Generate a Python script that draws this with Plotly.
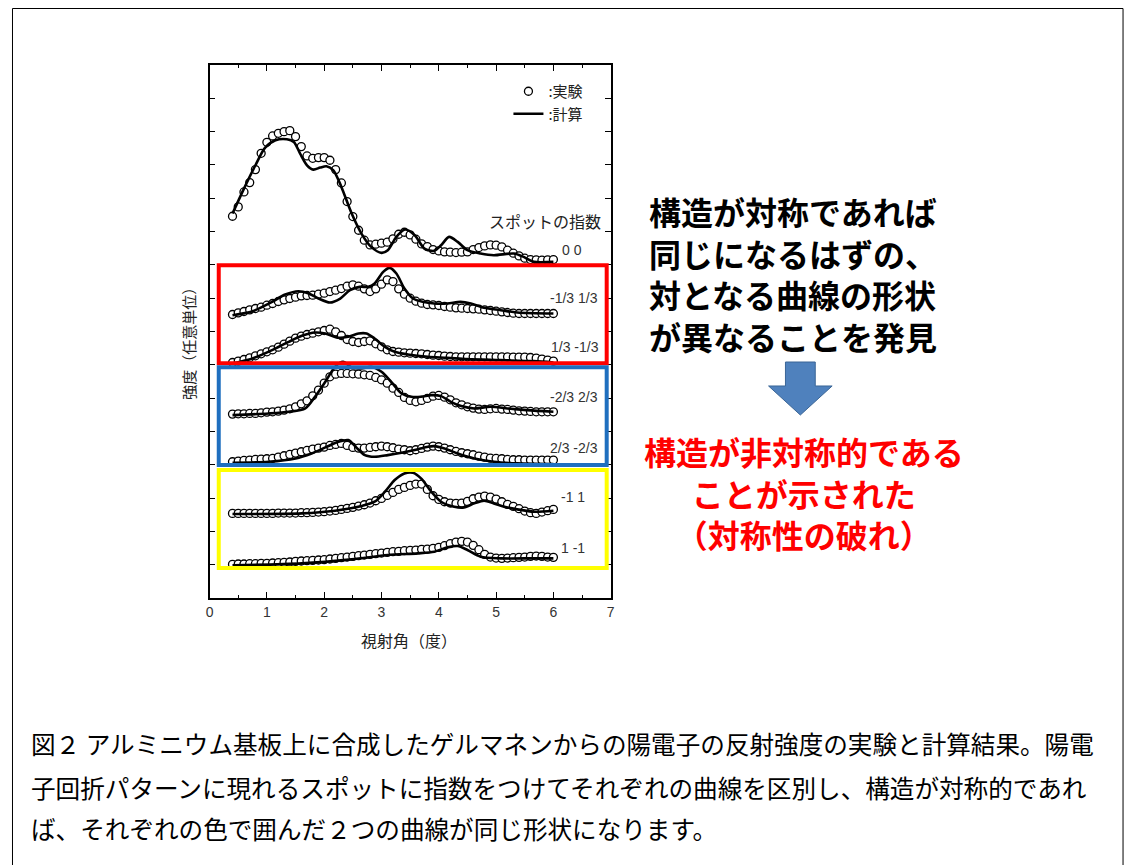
import plotly.graph_objects as go

# page is 1132x865; the browser body has an 8px margin, so the figure is 8px smaller
PAGE_OFF = 8
W, H = 1132 - PAGE_OFF, 865 - PAGE_OFF

# ---------------- data ----------------
X_EXP = [0.4, 0.5, 0.6, 0.7, 0.8, 0.9, 1.0, 1.1, 1.2, 1.3, 1.4, 1.5, 1.6, 1.7, 1.8, 1.9,
         2.0, 2.1, 2.2, 2.3, 2.4, 2.5, 2.6, 2.7, 2.8, 2.9, 3.0, 3.1, 3.2, 3.3, 3.4, 3.5,
         3.6, 3.7, 3.8, 3.9, 4.0, 4.1, 4.2, 4.3, 4.4, 4.5, 4.6, 4.7, 4.8, 4.9, 5.0, 5.1,
         5.2, 5.3, 5.4, 5.5, 5.6, 5.7, 5.8, 5.9, 6.0]

EXP_00 = [11.46, 11.74, 12.19, 12.47, 12.86, 13.35, 13.68, 13.87, 13.95, 14.00, 14.03, 13.85,
          13.55, 13.27, 13.20, 13.22, 13.22, 13.14, 12.86, 12.46, 11.90, 11.45, 11.04, 10.74,
          10.60, 10.62, 10.65, 10.68, 10.78, 10.92, 10.98, 10.90, 10.77, 10.63, 10.55, 10.46,
          10.42, 10.39, 10.38, 10.37, 10.38, 10.39, 10.46, 10.52, 10.57, 10.60, 10.59, 10.54,
          10.44, 10.35, 10.27, 10.20, 10.16, 10.15, 10.14, 10.15, 10.16]
EXP_M13 = [8.51, 8.56, 8.60, 8.65, 8.69, 8.73, 8.79, 8.84, 8.90, 8.95, 8.99, 9.03, 9.07, 9.08,
           9.09, 9.12, 9.15, 9.20, 9.24, 9.29, 9.36, 9.40, 9.36, 9.28, 9.20, 9.28, 9.42, 9.55,
           9.50, 9.28, 9.12, 9.00, 8.91, 8.85, 8.81, 8.80, 8.78, 8.75, 8.73, 8.71, 8.70, 8.69,
           8.68, 8.67, 8.65, 8.63, 8.61, 8.59, 8.57, 8.55, 8.54, 8.54, 8.54, 8.54, 8.54, 8.54, 8.54]
EXP_P13 = [7.07, 7.11, 7.16, 7.21, 7.27, 7.33, 7.39, 7.45, 7.53, 7.62, 7.71, 7.80, 7.86, 7.91,
           7.95, 7.99, 8.03, 8.07, 7.99, 7.88, 7.76, 7.70, 7.67, 7.70, 7.72, 7.63, 7.54, 7.45,
           7.40, 7.38, 7.36, 7.35, 7.34, 7.33, 7.31, 7.29, 7.28, 7.26, 7.25, 7.24, 7.24, 7.24,
           7.24, 7.24, 7.24, 7.24, 7.24, 7.24, 7.24, 7.23, 7.23, 7.23, 7.22, 7.20, 7.17, 7.14, 7.11]
EXP_M23 = [5.52, 5.53, 5.53, 5.54, 5.54, 5.56, 5.58, 5.59, 5.61, 5.64, 5.68, 5.74, 5.83, 5.92,
           6.07, 6.24, 6.45, 6.64, 6.72, 6.74, 6.74, 6.73, 6.72, 6.70, 6.68, 6.62, 6.55, 6.45,
           6.30, 6.17, 6.02, 5.93, 5.89, 5.93, 5.99, 6.06, 6.08, 6.03, 5.95, 5.86, 5.80, 5.74,
           5.70, 5.67, 5.66, 5.68, 5.69, 5.67, 5.66, 5.64, 5.62, 5.61, 5.60, 5.59, 5.59, 5.59, 5.59]
EXP_P23 = [4.09, 4.11, 4.13, 4.14, 4.16, 4.17, 4.18, 4.19, 4.23, 4.27, 4.31, 4.35, 4.39, 4.43,
           4.47, 4.50, 4.53, 4.58, 4.61, 4.64, 4.58, 4.52, 4.50, 4.50, 4.52, 4.54, 4.56, 4.54,
           4.51, 4.47, 4.45, 4.42, 4.45, 4.49, 4.53, 4.56, 4.54, 4.50, 4.45, 4.40, 4.36, 4.33,
           4.30, 4.26, 4.23, 4.20, 4.19, 4.18, 4.16, 4.15, 4.15, 4.14, 4.14, 4.14, 4.14, 4.14, 4.14]
EXP_M11 = [2.54, 2.54, 2.54, 2.54, 2.54, 2.54, 2.54, 2.54, 2.55, 2.55, 2.55, 2.55, 2.56, 2.56,
           2.57, 2.58, 2.59, 2.61, 2.63, 2.66, 2.69, 2.72, 2.76, 2.80, 2.85, 2.92, 2.99, 3.08,
           3.17, 3.26, 3.32, 3.38, 3.42, 3.42, 3.26, 3.07, 2.96, 2.89, 2.85, 2.84, 2.85, 2.90,
           2.98, 3.03, 3.06, 3.03, 2.97, 2.89, 2.81, 2.75, 2.68, 2.61, 2.56, 2.54, 2.58, 2.62, 2.66]
EXP_P11 = [1.01, 1.02, 1.02, 1.03, 1.03, 1.04, 1.04, 1.05, 1.06, 1.07, 1.08, 1.10, 1.11, 1.12,
           1.13, 1.14, 1.15, 1.17, 1.19, 1.21, 1.23, 1.25, 1.27, 1.29, 1.31, 1.33, 1.35, 1.37,
           1.39, 1.40, 1.42, 1.43, 1.44, 1.46, 1.47, 1.49, 1.52, 1.57, 1.63, 1.68, 1.70, 1.68,
           1.58, 1.45, 1.31, 1.23, 1.20, 1.19, 1.20, 1.21, 1.22, 1.23, 1.25, 1.26, 1.25, 1.23, 1.22]

CALC_00_X = [0.4, 0.6, 0.8, 0.97, 1.15, 1.35, 1.47, 1.58, 1.7, 1.81, 1.93, 2.04, 2.16, 2.3, 2.48,
             2.65, 2.82, 3.0, 3.11, 3.26, 3.41, 3.58, 3.75, 3.92, 4.04, 4.18, 4.33, 4.5, 4.73,
             4.96, 5.31, 5.48, 5.66, 6.0]
CALC_00_Y = [11.54, 12.29, 12.99, 13.52, 13.74, 13.77, 13.69, 13.34, 12.99, 12.86, 12.92, 12.96,
             12.84, 12.34, 11.54, 10.94, 10.54, 10.36, 10.44, 10.84, 11.06, 10.89, 10.49, 10.42,
             10.59, 10.84, 10.69, 10.44, 10.34, 10.29, 10.34, 10.24, 10.09, 10.09]
CALC_M13_X = [0.4, 0.75, 1.09, 1.32, 1.55, 1.73, 1.9, 2.1, 2.28, 2.45, 2.62, 2.77, 2.88, 3.03,
              3.14, 3.26, 3.4, 3.55, 3.72, 3.92, 4.15, 4.38, 4.56, 4.79, 5.08, 5.37, 6.0]
CALC_M13_Y = [8.49, 8.61, 8.89, 9.11, 9.21, 9.14, 8.99, 8.87, 8.99, 9.24, 9.34, 9.34, 9.44, 9.79,
              9.91, 9.74, 9.29, 8.99, 8.89, 8.84, 8.84, 8.89, 8.84, 8.71, 8.64, 8.57, 8.54]
CALC_P13_X = [0.4, 0.75, 1.09, 1.38, 1.61, 1.84, 2.02, 2.25, 2.42, 2.6, 2.74, 2.88, 3.06, 3.23,
              3.46, 3.81, 4.15, 4.5, 5.08, 5.66, 6.0]
CALC_P13_Y = [7.04, 7.19, 7.44, 7.69, 7.87, 7.97, 7.94, 7.81, 7.84, 7.94, 7.94, 7.79, 7.54, 7.39,
              7.31, 7.24, 7.21, 7.17, 7.14, 7.11, 7.07]
CALC_M23_X = [0.4, 1.03, 1.38, 1.67, 1.84, 2.02, 2.19, 2.33, 2.48, 2.65, 2.82, 3.0, 3.17, 3.35,
              3.52, 3.69, 3.87, 4.04, 4.21, 4.39, 4.62, 4.9, 5.2, 5.54, 6.0]
CALC_M23_Y = [5.49, 5.54, 5.59, 5.69, 6.04, 6.49, 6.94, 7.09, 6.92, 6.89, 6.94, 6.79, 6.49, 6.14,
              6.04, 6.04, 6.09, 6.06, 5.89, 5.76, 5.69, 5.74, 5.69, 5.64, 5.59]
CALC_P23_X = [0.4, 1.03, 1.5, 1.78, 2.02, 2.25, 2.42, 2.56, 2.71, 2.88, 3.11, 3.35, 3.58, 3.81,
              3.92, 4.1, 4.33, 4.62, 4.96, 5.37, 6.0]
CALC_P23_Y = [4.06, 4.09, 4.19, 4.34, 4.52, 4.69, 4.74, 4.52, 4.29, 4.24, 4.29, 4.36, 4.44, 4.54,
              4.56, 4.49, 4.34, 4.19, 4.09, 4.04, 4.02]
CALC_M11_X = [0.4, 1.61, 2.19, 2.65, 2.88, 3.06, 3.23, 3.4, 3.55, 3.69, 3.87, 4.04, 4.27, 4.44,
              4.62, 4.79, 4.96, 5.14, 5.37, 5.66, 6.0]
CALC_M11_Y = [2.52, 2.54, 2.62, 2.76, 2.89, 3.19, 3.54, 3.74, 3.76, 3.59, 3.19, 2.89, 2.74, 2.72,
              2.84, 2.92, 2.84, 2.74, 2.66, 2.59, 2.62]
CALC_P11_X = [0.4, 1.61, 2.48, 3.11, 3.63, 3.92, 4.15, 4.33, 4.5, 4.73, 5.08, 5.66, 6.0]
CALC_P11_Y = [0.98, 1.04, 1.16, 1.29, 1.34, 1.39, 1.52, 1.56, 1.44, 1.24, 1.19, 1.19, 1.19]

SPOT_LABELS = ["0 0", "-1/3 1/3", "1/3 -1/3", "-2/3 2/3", "2/3 -2/3", "-1 1", "1 -1"]
X_TICKS = [0, 1, 2, 3, 4, 5, 6, 7]

EXP_SERIES = [EXP_00, EXP_M13, EXP_P13, EXP_M23, EXP_P23, EXP_M11, EXP_P11]
CALC_SERIES = [(CALC_00_X, CALC_00_Y), (CALC_M13_X, CALC_M13_Y), (CALC_P13_X, CALC_P13_Y),
               (CALC_M23_X, CALC_M23_Y), (CALC_P23_X, CALC_P23_Y), (CALC_M11_X, CALC_M11_Y),
               (CALC_P11_X, CALC_P11_Y)]

# ---------------- helpers (page pixel -> paper) ----------------
def px(x):
    return (x - PAGE_OFF) / W

def py(y):
    return 1 - (y - PAGE_OFF) / H

JP = "Noto Sans CJK JP"
LAT = "Liberation Sans"

fig = go.Figure()

for i, ys in enumerate(EXP_SERIES):
    fig.add_trace(go.Scatter(
        x=X_EXP, y=ys, mode="markers", name=":実験", showlegend=(i == 0), legendrank=1,
        marker=dict(symbol="circle", size=8, color="white", line=dict(color="black", width=1.3)),
        hoverinfo="skip"))
for i, (cx, cy) in enumerate(CALC_SERIES):
    fig.add_trace(go.Scatter(
        x=cx, y=cy, mode="lines", name=":計算", showlegend=(i == 0), legendrank=2,
        line=dict(color="black", width=2.6, shape="spline", smoothing=0.8),
        hoverinfo="skip"))

# colored boxes (data coordinates)
box_specs = [("#FF0000", 7.05, 9.99), ("#1F6FBF", 3.99, 6.93), ("#FFFF00", 0.90, 3.84)]
for col, y0, y1 in box_specs:
    fig.add_shape(type="rect", xref="x", yref="y", x0=0.16, x1=6.93, y0=y0, y1=y1,
                  line=dict(color=col, width=4), fillcolor="rgba(0,0,0,0)", layer="above")

# spot labels
label_pos = [(6.32, 10.44), (6.36, 9.02), (6.38, 7.53), (6.36, 6.03), (6.36, 4.50), (6.34, 3.04), (6.34, 1.50)]
annotations = []
for lab, (lx, ly) in zip(SPOT_LABELS, label_pos):
    annotations.append(dict(x=lx, y=ly, xref="x", yref="y", text=lab, showarrow=False,
                            font=dict(family=LAT, size=14, color="#333333"),
                            xanchor="center", yanchor="middle"))
annotations.append(dict(x=5.86, y=11.32, xref="x", yref="y", text="スポットの指数", showarrow=False,
                        font=dict(family=JP, size=16, color="#222222"), xanchor="center", yanchor="middle"))

# axis titles
annotations.append(dict(x=px(408), y=py(640), xref="paper", yref="paper", text="視射角（度）",
                        showarrow=False, font=dict(family=JP, size=16, color="#222222"),
                        xanchor="center", yanchor="middle"))
annotations.append(dict(x=px(185), y=py(340), xref="paper", yref="paper", text="強度（任意単位）",
                        showarrow=False, textangle=-90, font=dict(family=JP, size=15, color="#222222"),
                        xanchor="center", yanchor="middle"))

# right-side statements
black_lines = ["構造が対称であれば", "同じになるはずの、", "対となる曲線の形状", "が異なることを発見"]
annotations.append(dict(x=px(648), y=py(273), xref="paper", yref="paper",
                        text="<br>".join("<b>" + t + "</b>" for t in black_lines),
                        showarrow=False, align="left", font=dict(family=JP, size=32, color="black"),
                        xanchor="left", yanchor="middle"))
red_lines = ["構造が非対称的である", "ことが示された", "（対称性の破れ）"]
annotations.append(dict(x=px(806), y=py(492), xref="paper", yref="paper",
                        text="<br>".join("<b>" + t + "</b>" for t in red_lines),
                        showarrow=False, align="center", font=dict(family=JP, size=32, color="#FF0000"),
                        xanchor="center", yanchor="middle"))

# caption
caption = ["図２ アルミニウム基板上に合成したゲルマネンからの陽電子の反射強度の実験と計算結果。陽電",
           "子回折パターンに現れるスポットに指数をつけてそれぞれの曲線を区別し、構造が対称的であれ",
           "ば、それぞれの色で囲んだ２つの曲線が同じ形状になります。"]
for t, yy in zip(caption, [743, 787, 828]):
    annotations.append(dict(x=px(25), y=py(yy), xref="paper", yref="paper", text=t, showarrow=False,
                            font=dict(family=JP, size=24.6, color="black"), xanchor="left", yanchor="middle"))

# arrow shape (paper coords)
arrow_pts = [(787, 362), (817, 362), (817, 386), (834, 386), (802, 415), (770, 386), (787, 386)]
path = "M " + " L ".join(f"{px(a):.5f},{py(b):.5f}" for a, b in arrow_pts) + " Z"
fig.add_shape(type="path", xref="paper", yref="paper", path=path,
              fillcolor="#4F81BD", line=dict(color="#3A6596", width=1))

# outer frame (as close to the page edge as the figure allows)
for (x0, y0, x1, y1) in [(8.5, 8.5, 1127, 8.5), (8.5, 8.5, 8.5, 865), (1127, 8.5, 1127, 865)]:
    fig.add_shape(type="line", xref="paper", yref="paper", x0=px(x0), y0=py(y0), x1=px(x1), y1=py(y1),
                  line=dict(color="black", width=1))

fig.update_layout(
    width=W, height=H, margin=dict(l=0, r=0, t=0, b=0),
    paper_bgcolor="white", plot_bgcolor="white",
    showlegend=True,
    legend=dict(x=px(508), y=py(75), xanchor="left", yanchor="top", bgcolor="rgba(0,0,0,0)",
                font=dict(family=JP, size=15, color="#222222"), tracegroupgap=0, itemwidth=30),
    xaxis=dict(domain=[px(207), px(611)], range=[0, 7], tickvals=X_TICKS, ticks="inside", ticklen=6,
               tickcolor="black", showline=True, linecolor="black", linewidth=1.5, mirror="ticks",
               showgrid=False, zeroline=False,
               tickfont=dict(family=LAT, size=14, color="#333333"),
               minor=dict(dtick=0.5, ticks="inside", ticklen=3, tickcolor="black", showgrid=False)),
    yaxis=dict(domain=[py(598), py(65)], range=[0, 16], dtick=1, ticks="inside", ticklen=6,
               tickcolor="black", showline=True, linecolor="black", linewidth=1.5, mirror="ticks",
               showgrid=False, zeroline=False, showticklabels=False),
    annotations=annotations,
)

fig.write_html("out.html")
